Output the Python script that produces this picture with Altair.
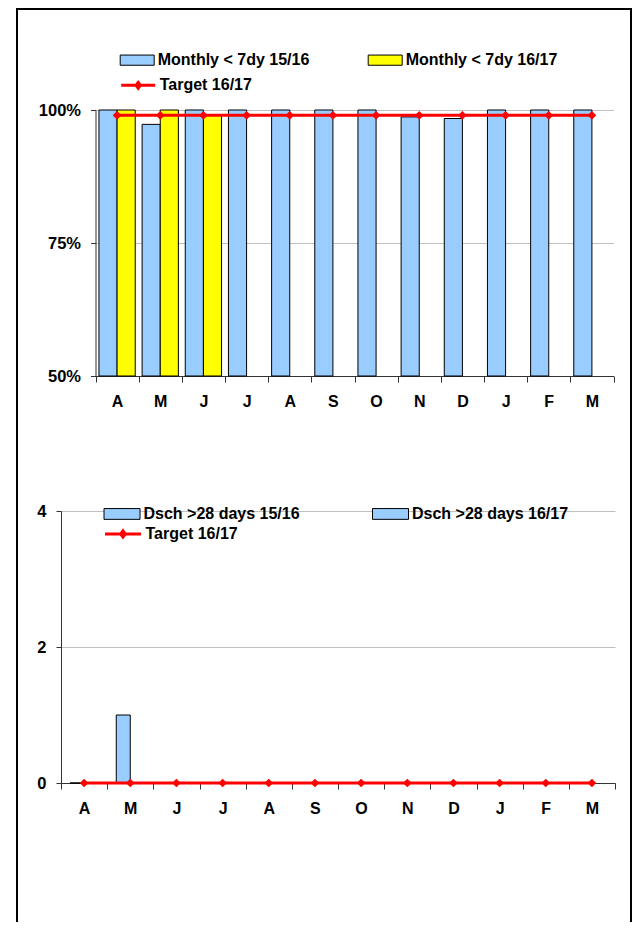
import altair as alt
import pandas as pd

# ---------------- data ----------------
months = ["Apr", "May", "Jun", "Jul", "Aug", "Sep", "Oct", "Nov", "Dec", "Jan", "Feb", "Mar"]
month_labels = ["A", "M", "J", "J", "A", "S", "O", "N", "D", "J", "F", "M"]

c1_series = ["Monthly < 7dy 15/16", "Monthly < 7dy 16/17"]
c1_vals_1516 = [1.00, 0.973, 1.00, 1.00, 1.00, 1.00, 1.00, 0.987, 0.984, 1.00, 1.00, 1.00]
c1_vals_1617 = [1.00, 1.00, 0.99]
c1_target_name = "Target 16/17"
c1_target = [0.99, 0.99, 0.99, 0.99, 0.99, 0.99, 0.99, 0.99, 0.99, 0.99, 0.99, 0.99]
c1_ticks = [0.5, 0.75, 1.0]

c2_series = ["Dsch >28 days 15/16", "Dsch >28 days 16/17"]
c2_vals_1516 = [0, 1, 0, 0, 0, 0, 0, 0, 0, 0, 0, 0]
c2_vals_1617 = [0, 0, 0]
c2_target_name = "Target 16/17"
c2_target = [0, 0, 0, 0, 0, 0, 0, 0, 0, 0, 0, 0]
c2_ticks = [0, 2, 4]

# ---------------- style ----------------
FONT = "Liberation Sans"
BLUE = "#99CCFF"
YELLOW = "#FFFF00"
RED = "#FF0000"
AXIS = "#333333"
GRID = "#c0c0c0"
RECT_PATH = "M-1,-0.3H1V0.3H-1Z"
TARGET_PATH = "M-1,0H1M0,-0.17L0.13,0L0,0.17L-0.13,0Z"

label_expr = (
    "[" + ",".join("'%s'" % l for l in month_labels) + "]"
    + "[indexof([" + ",".join("'%s'" % m for m in months) + "], datum.value)]"
)


def bar_frame(series, v1, v2):
    rows = []
    for m, v in zip(months, v1):
        rows.append({"month": m, "series": series[0], "value": v})
    for m, v in zip(months, v2):
        rows.append({"month": m, "series": series[1], "value": v})
    return pd.DataFrame(rows)


def target_frame(name, vals):
    return pd.DataFrame({"month": months, "series": [name] * len(vals), "value": vals})


def frame_bar(x1, x2, y1, y2):
    # page-frame line (cell border) drawn as a thin black rectangle
    return alt.Chart(pd.DataFrame({"k": [0]})).mark_rect(color="black", strokeWidth=0).encode(
        x=alt.value(x1), x2=alt.value(x2), y=alt.value(y1), y2=alt.value(y2))


def build(bars_df, series, colors, tgt_df, tgt_name, ydomain, yticks, yfmt,
          width, xrange, yoffset, height, pad_outer, sym_size, legx, legy1, legy2, colpad,
          frame):
    x = alt.X(
        "month:N",
        scale=alt.Scale(domain=months, paddingInner=0, paddingOuter=0, range=xrange),
        axis=alt.Axis(title=None, labelExpr=label_expr, labelAngle=0, tickBand="extent",
                      grid=False, domainColor=AXIS, tickColor=AXIS, tickSize=6,
                      labelPadding=11, labelFont=FONT, labelFontSize=16,
                      labelFontWeight="bold", labelColor="black"),
    )
    y = alt.Y(
        "value:Q",
        scale=alt.Scale(domain=ydomain, clamp=True, zero=False, nice=False),
        axis=alt.Axis(title=None, values=yticks, format=yfmt, grid=True, gridColor=GRID,
                      tickSize=5, labelPadding=10, domainColor=AXIS, tickColor=AXIS,
                      offset=yoffset, labelFont=FONT, labelFontSize=16.5,
                      labelFontWeight="bold", labelColor="black"),
    )
    bars = alt.Chart(bars_df).mark_bar(stroke="black", strokeWidth=1).encode(
        x=x,
        y=y,
        xOffset=alt.XOffset("series:N", scale=alt.Scale(domain=series, paddingInner=0,
                                                         paddingOuter=pad_outer)),
        fill=alt.Fill("series:N", scale=alt.Scale(domain=series, range=colors),
                      legend=alt.Legend(title=None, orient="none", legendX=legx, legendY=legy1,
                                        direction="horizontal", columns=2,
                                        columnPadding=colpad, symbolType=RECT_PATH,
                                        symbolSize=sym_size, symbolStrokeColor="black",
                                        symbolStrokeWidth=1, labelFont=FONT,
                                        labelFontSize=16, labelFontWeight="bold",
                                        labelColor="black", labelOffset=3, labelLimit=400,
                                        padding=0)),
    )
    tcolor = alt.Color("series:N", scale=alt.Scale(domain=[tgt_name], range=[RED]),
                       legend=alt.Legend(title=None, orient="none", legendX=legx, legendY=legy2,
                                         symbolType=TARGET_PATH, symbolSize=sym_size,
                                         symbolStrokeColor=RED, symbolFillColor=RED,
                                         symbolStrokeWidth=3, labelFont=FONT,
                                         labelFontSize=16, labelFontWeight="bold",
                                         labelColor="black", labelOffset=3, labelLimit=400,
                                         padding=0))
    line = alt.Chart(tgt_df).mark_line(strokeWidth=3).encode(x=x, y=y, color=tcolor)
    pts = alt.Chart(tgt_df).mark_point(shape="diamond", filled=True, size=75, opacity=1).encode(
        x=x, y=y, color=tcolor)
    layers = [bars, line, pts] + [frame_bar(*f) for f in frame]
    return alt.layer(*layers).properties(width=width, height=height)


# common plot origin x on page = 61; chart 1 origin y = 110, chart 2 origin y = 511
OX = 61
L1, L2 = 16 - OX, 18 - OX          # left frame line
R1, R2 = 630 - OX, 632 - OX        # right frame line

c1 = build(bar_frame(c1_series, c1_vals_1516, c1_vals_1617), c1_series, [BLUE, YELLOW],
           target_frame(c1_target_name, c1_target), c1_target_name, [0.5, 1.0], c1_ticks, ".0%",
           width=552.5, xrange=[95.5 - OX, 613.5 - OX], yoffset=OX - 95.5, height=266,
           pad_outer=0.19, sym_size=1156,
           legx=58.7, legy1=-67.6, legy2=-43.2, colpad=56,
           frame=[(L1, R2, 8 - 110, 10 - 110),
                  (L1, L2, 8 - 110, 451 - 110),
                  (R1, R2, 8 - 110, 451 - 110)])

c2 = build(bar_frame(c2_series, c2_vals_1516, c2_vals_1617), c2_series, [BLUE, BLUE],
           target_frame(c2_target_name, c2_target), c2_target_name, [0, 4], c2_ticks, "d",
           width=554, xrange=[0, 554], yoffset=0, height=272,
           pad_outer=0.65, sym_size=1296,
           legx=42.5, legy1=-15.8, legy2=3.4, colpad=69.5,
           frame=[(L1, L2, 451 - 511, 922 - 511),
                  (R1, R2, 451 - 511, 922 - 511)])

chart = alt.vconcat(c1, c2, spacing=0).resolve_scale(
    fill="independent", color="independent", xOffset="independent"
).resolve_legend(
    fill="independent", color="independent"
).properties(
    padding={"left": 8, "top": 0, "right": 0, "bottom": 0},
).configure_view(stroke=None)

chart.save("out.html", embed_options={"renderer": "svg", "actions": False})
